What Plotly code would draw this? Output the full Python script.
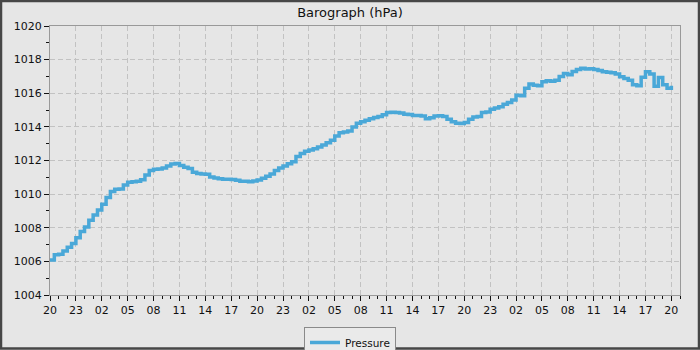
import plotly.graph_objects as go

# hours since start (20:00), half-hour steps
hours = [i * 0.5 for i in range(145)]
pressure = [
    1006.08, 1006.40, 1006.42, 1006.62, 1006.84, 1007.07, 1007.40, 1007.77, 1008.04, 1008.45,
    1008.76, 1009.05, 1009.40, 1009.80, 1010.15, 1010.29, 1010.30, 1010.55, 1010.70, 1010.74,
    1010.76, 1010.86, 1011.14, 1011.40, 1011.48, 1011.50, 1011.55, 1011.68, 1011.79, 1011.82,
    1011.70, 1011.60, 1011.53, 1011.30, 1011.22, 1011.20, 1011.18, 1011.02, 1010.96, 1010.92,
    1010.88, 1010.88, 1010.87, 1010.82, 1010.77, 1010.76, 1010.74, 1010.78, 1010.84, 1010.94,
    1011.06, 1011.20, 1011.40, 1011.56, 1011.68, 1011.80, 1011.93, 1012.24, 1012.42, 1012.55,
    1012.62, 1012.70, 1012.80, 1012.92, 1013.05, 1013.20, 1013.45, 1013.65, 1013.70, 1013.75,
    1014.00, 1014.21, 1014.30, 1014.40, 1014.48, 1014.56, 1014.62, 1014.72, 1014.86, 1014.87,
    1014.86, 1014.82, 1014.75, 1014.74, 1014.68, 1014.67, 1014.64, 1014.48, 1014.55, 1014.65,
    1014.66, 1014.62, 1014.45, 1014.30, 1014.22, 1014.20, 1014.26, 1014.45, 1014.58, 1014.62,
    1014.86, 1014.88, 1015.05, 1015.12, 1015.20, 1015.35, 1015.45, 1015.60, 1015.88, 1015.85,
    1016.30, 1016.55, 1016.48, 1016.45, 1016.68, 1016.74, 1016.72, 1016.78, 1017.00, 1017.18,
    1017.10, 1017.30, 1017.42, 1017.48, 1017.44, 1017.45, 1017.42, 1017.36, 1017.28, 1017.25,
    1017.22, 1017.15, 1016.98, 1016.88, 1016.78, 1016.50, 1016.45, 1016.95, 1017.28, 1017.15,
    1016.42, 1016.93, 1016.50, 1016.30, 1016.45,
]
tick_hours = [i * 3 for i in range(25)]
tick_labels = ["20", "23", "02", "05", "08", "11", "14", "17"] * 3 + ["20"]

W, H = 700, 350
ML, MR, MT, MB = 50, 20, 26, 55
PW, PH = W - ML - MR, H - MT - MB

def px_x(px):
    return (px - ML) / PW

def px_y(py):
    return (H - MB - py) / PH

BG = "#e6e6e6"
GRID = "#c2c2c2"
FONT = "DejaVu Sans"

fig = go.Figure()
fig.add_trace(go.Scatter(
    x=hours, y=pressure, mode="lines", name="Pressure",
    line=dict(color="#4aa8d8", width=3.5, shape="hv"),
))

fig.update_layout(
    width=W, height=H,
    margin=dict(l=ML, r=MR, t=MT, b=MB, autoexpand=False),
    paper_bgcolor=BG, plot_bgcolor=BG,
    font=dict(family=FONT, size=11, color="#111"),
    title=dict(text="Barograph (hPa)", x=0.5, xref="container", xanchor="center",
               y=1 - 12 / H, yref="container", yanchor="middle",
               font=dict(family=FONT, size=13, color="#111")),
    showlegend=True,
    legend=dict(orientation="h", x=0.5, xref="container", xanchor="center",
                y=1 - 327 / H, yref="container", yanchor="top",
                bgcolor="#eaeaea", bordercolor="#8a8a8a", borderwidth=1,
                font=dict(family=FONT, size=10.5, color="#111")),
    xaxis=dict(
        range=[0, 73], tickmode="array", tickvals=tick_hours, ticktext=tick_labels,
        showgrid=True, gridcolor=GRID, griddash="5px,3px", gridwidth=1,
        showline=True, linecolor="#999999", linewidth=1, mirror=True,
        ticks="outside", ticklen=5, tickcolor="#111", zeroline=False,
        minor=dict(tickmode="linear", tick0=0, dtick=1, ticks="outside", ticklen=3,
                   tickcolor="#111", showgrid=False),
        tickfont=dict(family=FONT, size=11, color="#111"),
        automargin=False,
    ),
    yaxis=dict(
        range=[1004, 1020], tickmode="linear", tick0=1004, dtick=2,
        showgrid=True, gridcolor=GRID, griddash="5px,3px", gridwidth=1,
        showline=True, linecolor="#999999", linewidth=1, mirror=True,
        ticks="outside", ticklen=5, tickcolor="#111", zeroline=False,
        minor=dict(tickmode="linear", tick0=1004, dtick=1, ticks="outside", ticklen=3,
                   tickcolor="#111", showgrid=False),
        tickfont=dict(family=FONT, size=11, color="#111"),
        automargin=False,
    ),
    shapes=[
        dict(type="rect", xref="paper", yref="paper",
             x0=px_x(1), x1=px_x(W - 1), y0=px_y(H - 1.5), y1=px_y(1),
             line=dict(color="#474747", width=2.5), fillcolor="rgba(0,0,0,0)", layer="above"),
    ],
)

fig.write_html("out.html")
